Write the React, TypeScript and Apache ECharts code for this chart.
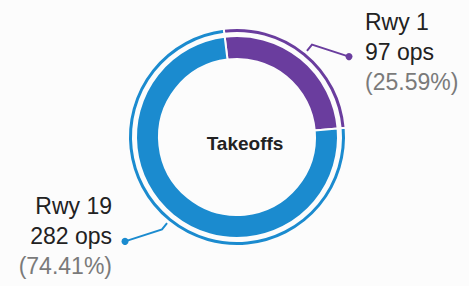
import React, { useEffect, useRef } from "react";
import * as echarts from "echarts";

const categories = ["Rwy 1", "Rwy 19"];
const opsValues = [97, 282];
const sliceColors = ["#6a3d9e", "#1b8bcf"];
const centerTitle = "Takeoffs";

const W = 469;
const H = 286;
const CX = 237;
const CY = 137;
const START = 97;

export default function App() {
  const ref = useRef<HTMLDivElement>(null);

  useEffect(() => {
    if (!ref.current) return;
    const chart = echarts.init(ref.current, undefined, { renderer: "svg" });
    const total = opsValues.reduce((a, b) => a + b, 0);

    // label line geometry derived from slice mid-angles
    let cum = 0;
    const geo = opsValues.map((v) => {
      const mid = START - ((cum + v / 2) / total) * 360;
      cum += v;
      const a = (mid * Math.PI) / 180;
      const cs = Math.cos(a);
      const sn = Math.sin(a);
      const sign = cs >= 0 ? 1 : -1;
      const p1 = [CX + 111 * cs, CY - 111 * sn];
      const p2 = [CX + 119 * cs, CY - 119 * sn];
      const p3 = [p2[0] + sign * 37, p2[1] + 12];
      return { sign, p1, p2, p3 };
    });

    const data = categories.map((name, i) => ({
      name,
      value: opsValues[i],
      itemStyle: { color: sliceColors[i] },
    }));

    chart.setOption({
      animation: false,
      backgroundColor: "#fcfcfc",
      graphic: [
        {
          type: "text",
          x: 245,
          y: 143,
          style: {
            text: centerTitle,
            fill: "#222",
            font: "bold 19px 'Liberation Sans', Arial, sans-serif",
            textAlign: "center",
            textVerticalAlign: "middle",
          },
        },
        ...geo.map((g, i) => ({
          type: "circle",
          shape: { cx: g.p3[0], cy: g.p3[1], r: 3.5 },
          style: { fill: sliceColors[i] },
          z: 100,
        })),
      ],
      series: [
        {
          type: "pie",
          center: [CX, CY],
          radius: [104, 109],
          startAngle: START,
          clockwise: true,
          silent: true,
          label: { show: false },
          labelLine: { show: false },
          itemStyle: { borderColor: "#fcfcfc", borderWidth: 2 },
          data,
        },
        {
          type: "pie",
          center: [CX, CY],
          radius: [78, 101],
          startAngle: START,
          clockwise: true,
          silent: true,
          itemStyle: { borderColor: "#fcfcfc", borderWidth: 2 },
          label: {
            show: true,
            position: "outside",
            fontFamily: "'Liberation Sans', Arial, sans-serif",
            formatter: (p: any) =>
              `{n|${p.name}}\n{n|${p.value} ops}\n{p|(${(
                (p.value / total) *
                100
              ).toFixed(2)}%)}`,
            rich: {
              n: {
                fontSize: 23,
                lineHeight: 30,
                color: "#222",
                fontFamily: "'Liberation Sans', Arial, sans-serif",
              },
              p: {
                fontSize: 23,
                lineHeight: 30,
                color: "#7a7a7a",
                fontFamily: "'Liberation Sans', Arial, sans-serif",
              },
            },
          },
          labelLine: { show: true, lineStyle: { width: 2 } },
          labelLayout: (params: any) => {
            const g = geo[params.dataIndex];
            const right = g.sign > 0;
            return {
              x: right ? g.p3[0] + 16 : g.p3[0] - 13,
              y: g.p3[1] - 5,
              align: right ? "left" : "right",
              verticalAlign: "middle",
              labelLinePoints: [g.p1, g.p2, g.p3],
            };
          },
          data,
        },
      ],
    });

    return () => chart.dispose();
  }, []);

  return (
    <div
      ref={ref}
      style={{ position: "absolute", left: 0, top: 0, width: W, height: H }}
    />
  );
}
